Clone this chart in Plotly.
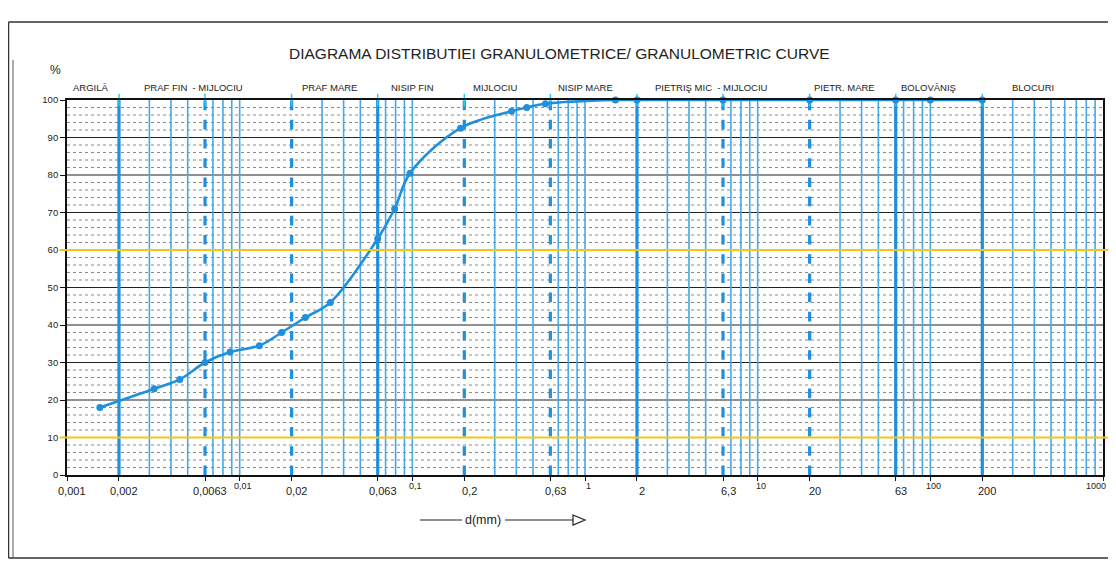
import math
import plotly.graph_objects as go

# ---------------- data ----------------
diam_mm = [0.00155, 0.0032, 0.0045, 0.0063, 0.0088, 0.013, 0.0175, 0.024, 0.0335,
           0.063, 0.079, 0.097, 0.19, 0.375, 0.46, 0.59, 1.5, 2, 6.3, 20, 63, 100, 200]
passing_pct = [18, 23, 25.5, 30, 32.8, 34.5, 38, 42, 46,
               63, 71, 80.5, 92.5, 97, 98, 99, 100, 100, 100, 100, 100, 100, 100]

bound_solid = [0.002, 0.063, 2, 63, 200]
bound_dashed = [0.0063, 0.02, 0.2, 0.63, 6.3, 20]
grid_thin = [0.003, 0.004, 0.005, 0.007, 0.008, 0.009, 0.01,
             0.03, 0.04, 0.05, 0.07, 0.08, 0.09, 0.1,
             0.3, 0.4, 0.5, 0.7, 0.8, 0.9, 1,
             3, 4, 5, 7, 8, 9, 10,
             30, 40, 50, 70, 80, 90, 100,
             300, 400, 500, 600, 700, 800, 900]

x_ticks_main = [0.001, 0.002, 0.0063, 0.02, 0.063, 0.2, 0.63, 2, 6.3, 20, 63, 200]
x_ticks_main_text = ["0,001", "0,002", "0,0063", "0,02", "0,063", "0,2", "0,63", "2", "6,3", "20", "63", "200"]
x_ticks_dec = [0.01, 0.1, 1, 10, 100, 1000]
x_ticks_dec_text = ["0,01", "0,1", "1", "10", "100", "1000"]

class_names = ["ARGILĂ", "PRAF FIN  - MIJLOCIU", "PRAF MARE", "NISIP FIN", "MIJLOCIU",
               "NISIP MARE", "PIETRIŞ MIC  - MIJLOCIU", "PIETR. MARE", "BOLOVĂNIŞ", "BLOCURI"]
class_pos = [0.00138, 0.0054, 0.033, 0.1, 0.30, 1.0, 5.4, 32, 97, 393]

y_major = [10, 20, 30, 40, 50, 60, 70, 80, 90]
y_minor = [v for v in range(2, 100, 2) if v % 10 != 0]
yellow_levels = [60, 10]

title_text = "DIAGRAMA DISTRIBUTIEI GRANULOMETRICE/ GRANULOMETRIC CURVE"

# ---------------- styling ----------------
BLUE = "rgb(30,144,222)"
BLUE_THIN = "rgb(70,168,228)"
FONT = "Liberation Sans, Arial, sans-serif"
OFF = 8                      # default page margin of the html body
W, H = 1116 - OFF, 566 - OFF
# plot area in page pixels
PL, PR, PT, PB = 67, 1103, 100, 475
ML, MT = PL - OFF, PT - OFF
MR, MB = W - (PR - OFF), H - (PB - OFF)
PW, PH = PR - PL, PB - PT


def px2paper_x(px):
    return (px - PL) / PW


def px2paper_y(py):
    return (PB - py) / PH


def vlines(xs):
    X, Y = [], []
    for v in xs:
        X += [v, v, None]
        Y += [0, 100, None]
    return X, Y


def hlines(ys):
    X, Y = [], []
    for v in ys:
        X += [0.001, 1000, None]
        Y += [v, v, None]
    return X, Y


fig = go.Figure()

hx, hy = hlines(y_minor)
fig.add_trace(go.Scatter(x=hx, y=hy, mode="lines", hoverinfo="skip",
                         line=dict(color="rgba(20,20,20,0.5)", width=1, dash="dot")))
hx, hy = hlines(y_major)
fig.add_trace(go.Scatter(x=hx, y=hy, mode="lines", hoverinfo="skip",
                         line=dict(color="#222", width=1.2)))
vx, vy = vlines(grid_thin)
fig.add_trace(go.Scatter(x=vx, y=vy, mode="lines", hoverinfo="skip",
                         line=dict(color=BLUE_THIN, width=1.6)))
vx, vy = vlines(bound_solid)
fig.add_trace(go.Scatter(x=vx, y=vy, mode="lines", hoverinfo="skip",
                         line=dict(color=BLUE, width=3.2)))
vx, vy = vlines(bound_dashed)
fig.add_trace(go.Scatter(x=vx, y=vy, mode="lines", hoverinfo="skip",
                         line=dict(color=BLUE, width=3.2, dash="dash")))

# top boundary ticks
fig.add_trace(go.Scatter(x=bound_solid + bound_dashed, y=[100] * (len(bound_solid) + len(bound_dashed)),
                         mode="markers", hoverinfo="skip", cliponaxis=False,
                         marker=dict(symbol="line-ns-open", size=9,
                                     line=dict(color="#222", width=1.5))))

# granulometric curve
fig.add_trace(go.Scatter(x=diam_mm, y=passing_pct, mode="lines+markers", cliponaxis=False,
                         line=dict(color=BLUE, width=2.6, shape="spline", smoothing=1.0),
                         marker=dict(color=BLUE, size=7)))

shapes = []
for lv in yellow_levels:
    shapes.append(dict(type="line", xref="paper", yref="y", x0=-0.007, x1=1.007, y0=lv, y1=lv,
                       line=dict(color="rgb(247,196,20)", width=2.2), layer="above"))

# outer page frame
fx0, fx1 = px2paper_x(OFF + 0.5), px2paper_x(13)
fy0, fy1 = px2paper_y(558), px2paper_y(22)
shapes += [
    dict(type="line", xref="paper", yref="paper", x0=fx0, x1=1.02, y0=fy1, y1=fy1,
         line=dict(color="#333", width=1.5)),
    dict(type="line", xref="paper", yref="paper", x0=fx0, x1=1.02, y0=fy0, y1=fy0,
         line=dict(color="#333", width=1.5)),
    dict(type="line", xref="paper", yref="paper", x0=fx0, x1=fx0, y0=fy0, y1=fy1,
         line=dict(color="#333", width=1.5)),
    dict(type="line", xref="paper", yref="paper", x0=fx1, x1=fx1, y0=fy0, y1=px2paper_y(60),
         line=dict(color="#555", width=1)),
]
# d(mm) arrow
ay = px2paper_y(520)
shapes += [
    dict(type="line", xref="paper", yref="paper", x0=px2paper_x(420), x1=px2paper_x(462), y0=ay, y1=ay,
         line=dict(color="#222", width=1.2)),
    dict(type="line", xref="paper", yref="paper", x0=px2paper_x(505), x1=px2paper_x(573), y0=ay, y1=ay,
         line=dict(color="#222", width=1.2)),
    dict(type="path", xref="paper", yref="paper",
         path="M {a},{b} L {c},{d} L {a},{e} Z".format(a=px2paper_x(573), b=px2paper_y(515),
                                                       c=px2paper_x(585), d=ay, e=px2paper_y(525)),
         line=dict(color="#222", width=1.2), fillcolor="white"),
]

annotations = [
    dict(text=title_text, xref="paper", yref="paper", x=px2paper_x(559), y=px2paper_y(53),
         xanchor="center", yanchor="middle",
         showarrow=False, font=dict(family=FONT, size=15.5, color="#222")),
    dict(text="%", xref="paper", yref="paper", x=px2paper_x(55), y=px2paper_y(70),
         xanchor="center", yanchor="middle",
         showarrow=False, font=dict(family=FONT, size=12, color="#222")),
    dict(text="d(mm)", xref="paper", yref="paper", x=px2paper_x(483), y=ay,
         xanchor="center", yanchor="middle",
         showarrow=False, font=dict(family=FONT, size=12.5, color="#222")),
]
for name, pos in zip(class_names, class_pos):
    annotations.append(dict(text=name, xref="x", yref="paper", x=math.log10(pos), y=px2paper_y(88),
                            xanchor="center", yanchor="middle",
                            showarrow=False, font=dict(family=FONT, size=9.5, color="#222")))
for v, t in zip(x_ticks_main, x_ticks_main_text):
    annotations.append(dict(text=t, xref="x", yref="paper", x=math.log10(v), y=0,
                            xanchor="center", yanchor="top",
                            xshift=5, yshift=-8, showarrow=False,
                            font=dict(family=FONT, size=11, color="#222")))
for v, t in zip(x_ticks_dec, x_ticks_dec_text):
    annotations.append(dict(text=t, xref="x", yref="paper", x=math.log10(v), y=0,
                            xanchor="center", yanchor="top",
                            xshift=(-7 if v == 1000 else 3), yshift=-4, showarrow=False,
                            font=dict(family=FONT, size=9, color="#222")))

fig.update_layout(
    width=W, height=H,
    margin=dict(l=ML, r=MR, t=MT, b=MB),
    paper_bgcolor="white", plot_bgcolor="white",
    showlegend=False,
    shapes=shapes,
    annotations=annotations,
    xaxis=dict(type="log", range=[-3, 3], showgrid=False, zeroline=False,
               showline=True, mirror=True, linecolor="#111", linewidth=1.8,
               tickvals=x_ticks_main + x_ticks_dec, showticklabels=False,
               ticks="outside", ticklen=4, tickcolor="#111"),
    yaxis=dict(range=[0, 100], showgrid=False, zeroline=False,
               showline=True, mirror=True, linecolor="#111", linewidth=1.8,
               tickvals=[0, 10, 20, 30, 40, 50, 60, 70, 80, 90, 100],
               ticks="outside", ticklen=5, tickcolor="#111",
               tickfont=dict(family=FONT, size=9.5, color="#222")),
)

fig.write_html("out.html")
